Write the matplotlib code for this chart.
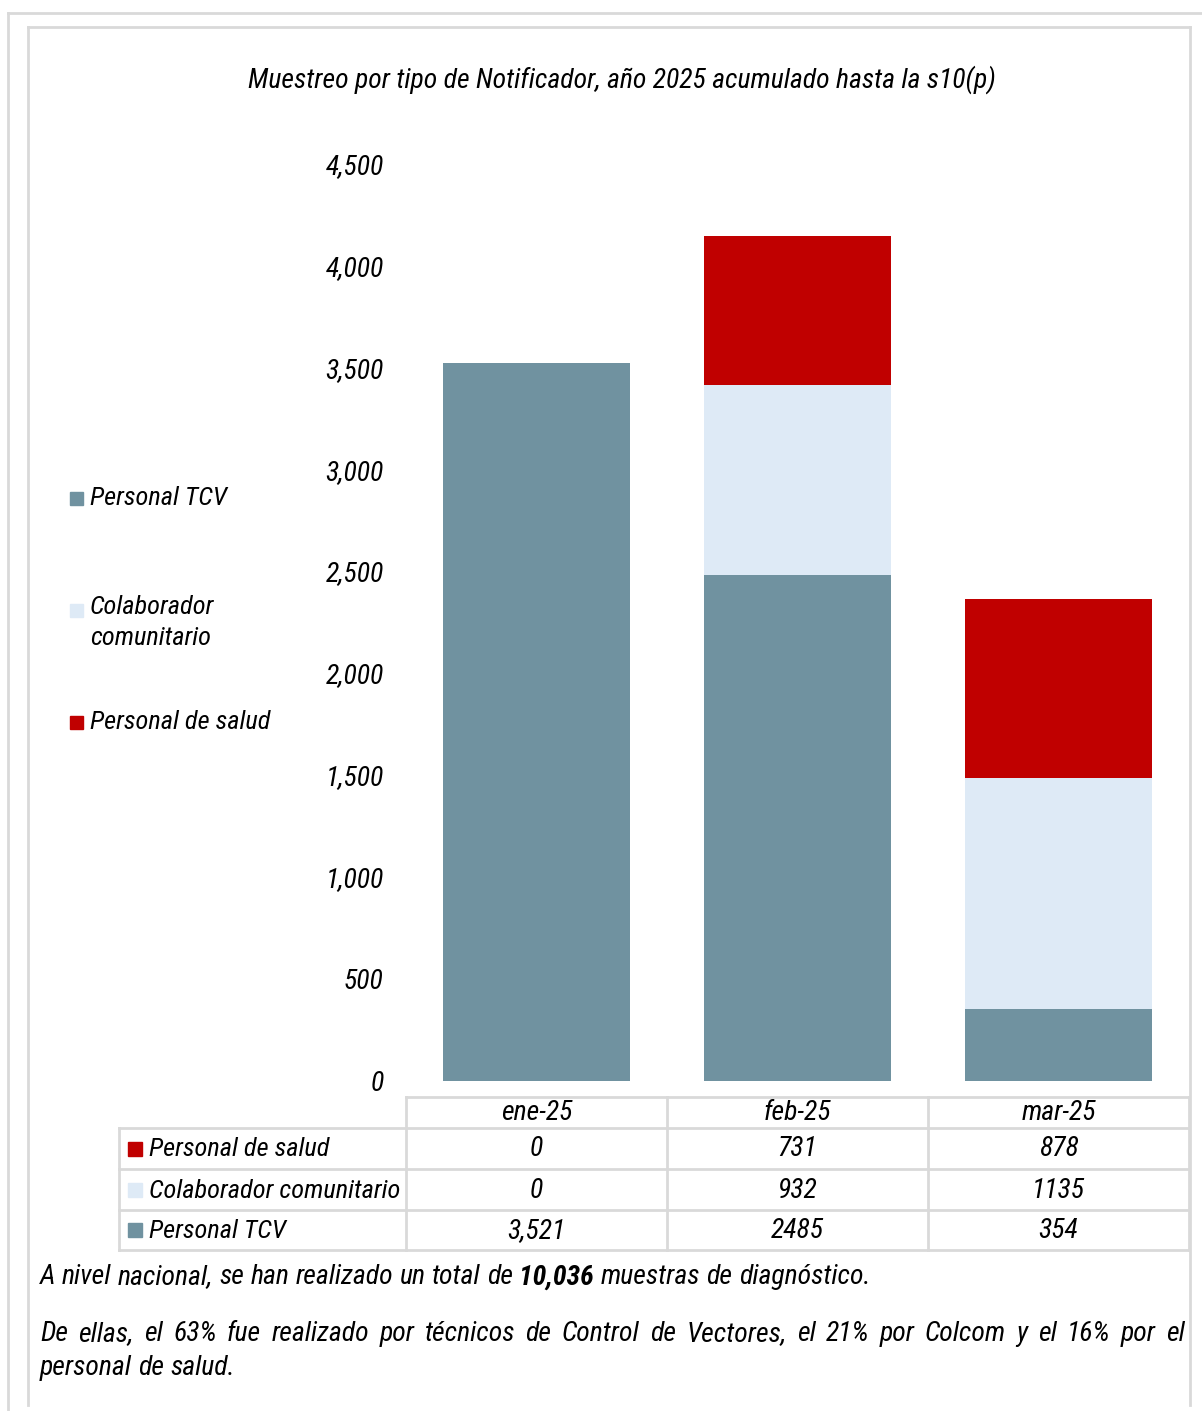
import matplotlib
matplotlib.use("Agg")
import matplotlib.pyplot as plt
from matplotlib import font_manager
from matplotlib.lines import Line2D
from matplotlib.patches import Rectangle

# data
meses = ["ene-25", "feb-25", "mar-25"]
series = ["Personal de salud", "Colaborador comunitario", "Personal TCV"]
salud = [0, 731, 878]
colab = [0, 932, 1135]
tcv = [3521, 2485, 354]
tabla_txt = {
    "Personal de salud": ["0", "731", "878"],
    "Colaborador comunitario": ["0", "932", "1135"],
    "Personal TCV": ["3,521", "2485", "354"],
}
colores = {"Personal TCV": "#7092a0", "Colaborador comunitario": "#deeaf6",
           "Personal de salud": "#c00000"}
titulo = "Muestreo por tipo de Notificador, año 2025 acumulado hasta la s10(p)"
yticks = [0, 500, 1000, 1500, 2000, 2500, 3000, 3500, 4000, 4500]

names = {f.name for f in font_manager.fontManager.ttflist}
fam = "DejaVu Sans"
for cand in ["Liberation Sans Narrow", "Arial Narrow", "Roboto Condensed", "Archivo Narrow", "PT Sans Narrow"]:
    if cand in names:
        fam = cand
        break
plt.rcParams["font.family"] = [fam, "DejaVu Sans"]
plt.rcParams["font.style"] = "italic"

W, H = 1202, 1411
fig = plt.figure(figsize=(W / 100, H / 100), dpi=100)
rend = fig.canvas.get_renderer()


def width(s, size, weight="normal"):
    t = fig.text(0, 0, s, fontsize=size, fontweight=weight)
    w = t.get_window_extent(rend).width
    t.remove()
    return w


# pick the size so the title is as wide as in the reference (~748 px)
FS = 20 * 748 / width(titulo, 20)
FS_LEG = FS * 0.95


def fx(px):
    return px / W


def fy(py):
    return 1 - py / H


# frames
gris = "#d9d9d9"
for xs, ys in [((8, 1202), (13, 13)), ((8, 8), (13, 1411)),
               ((28, 1190), (27, 27)), ((28, 28), (27, 1405)), ((1190, 1190), (27, 1405))]:
    fig.add_artist(Line2D([fx(x) for x in xs], [fy(y) for y in ys], color=gris, lw=2))

fig.text(fx(622), fy(80), titulo, ha="center", va="center", fontsize=FS)

# main axes
ax = fig.add_axes([fx(406), fy(1081), fx(1189) - fx(406), fy(164) - fy(1081)])
x = range(len(meses))
bw = 0.72
ax.bar(x, tcv, bw, color=colores["Personal TCV"])
ax.bar(x, colab, bw, bottom=tcv, color=colores["Colaborador comunitario"])
base = [a + b for a, b in zip(tcv, colab)]
ax.bar(x, salud, bw, bottom=base, color=colores["Personal de salud"])
ax.set_xlim(-0.5, 2.5)
ax.set_ylim(0, 4500)
ax.set_yticks(yticks)
ax.set_yticklabels([f"{v:,}" for v in yticks], fontsize=FS)
ax.tick_params(axis="y", length=0, pad=16)
ax.set_xticks([])
for s in ax.spines.values():
    s.set_visible(False)

# left legend
leg = [("Personal TCV", "Personal TCV", 498),
       ("Colaborador comunitario", "Colaborador\ncomunitario", 610),
       ("Personal de salud", "Personal de salud", 722)]
for key, lab, yy in leg:
    fig.add_artist(Rectangle((fx(70), fy(yy + 7)), fx(13), 13 / H, color=colores[key]))
    if "\n" in lab:
        fig.text(fx(90), fy(yy - 15), lab, ha="left", va="top", fontsize=FS_LEG, linespacing=1.38)
    else:
        fig.text(fx(90), fy(yy), lab, ha="left", va="center", fontsize=FS_LEG)

# data table
tax = fig.add_axes([fx(406), fy(1250), fx(1189) - fx(406), fy(1097) - fy(1250)])
tax.set_xlim(-0.5, 2.5)
tax.set_ylim(1250, 1097)
tax.axis("off")
col_l = -0.5 - (406 - 119) / 261.0
lk = dict(color=gris, lw=2, clip_on=False)
rows = [1097, 1128, 1169, 1210, 1250]
tax.plot([-0.5, 2.5], [1097, 1097], **lk)
for r in rows[1:]:
    tax.plot([col_l, 2.5], [r, r], **lk)
for c in [-0.5, 0.5, 1.5, 2.5]:
    tax.plot([c, c], [1097, 1250], **lk)
tax.plot([col_l, col_l], [1128, 1250], **lk)
for i, m in enumerate(meses):
    tax.text(i, (rows[0] + rows[1]) / 2 + 1, m, ha="center", va="center", fontsize=FS)
for j, sname in enumerate(series):
    yc = (rows[j + 1] + rows[j + 2]) / 2 + 1
    tax.add_patch(Rectangle((col_l + 9 / 261, yc - 8), 14 / 261, 14,
                            color=colores[sname], clip_on=False))
    tax.text(col_l + 30 / 261, yc, sname, ha="left", va="center", fontsize=FS_LEG, clip_on=False)
    for i, v in enumerate(tabla_txt[sname]):
        tax.text(i, yc, v, ha="center", va="center", fontsize=FS)

# bottom text
sp = width("x x", FS) - width("xx", FS)


def line(yy, words, x0=40, x1=None):
    ws = [width(w, FS, b) for w, b in words]
    gap = sp
    if x1 is not None and len(words) > 1:
        gap = (x1 - x0 - sum(ws)) / (len(words) - 1)
    xc = x0
    for (w, b), wd in zip(words, ws):
        fig.text(fx(xc), fy(yy), w, fontsize=FS, fontweight=b, ha="left", va="center")
        xc += wd + gap


p1 = ([(w, "normal") for w in "A nivel nacional, se han realizado un total de".split()]
      + [("10,036", "bold")]
      + [(w, "normal") for w in "muestras de diagnóstico.".split()])
line(1277, p1)
p2a = "De ellas, el 63% fue realizado por técnicos de Control de Vectores, el 21% por Colcom y el 16% por el"
line(1334, [(w, "normal") for w in p2a.split()], 40, 1185)
line(1368, [(w, "normal") for w in "personal de salud.".split()])

fig.savefig("out.png", dpi=100)
